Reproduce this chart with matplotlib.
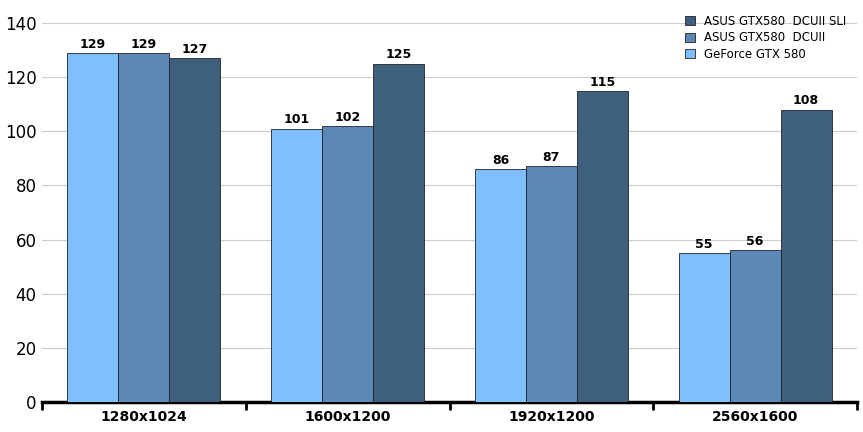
import matplotlib
matplotlib.use("Agg")
import matplotlib.pyplot as plt
import numpy as np

categories = ["1280x1024", "1600x1200", "1920x1200", "2560x1600"]
geforce = [129, 101, 86, 55]
dcuii = [129, 102, 87, 56]
sli = [127, 125, 115, 108]
series_names = ["GeForce GTX 580", "ASUS GTX580  DCUII", "ASUS GTX580  DCUII SLI"]
colors = ["#80BFFF", "#5B88B6", "#3F5F7F"]

fig = plt.figure(figsize=(8.63, 4.32), dpi=100)
ax = fig.add_axes([42/863, 1-402/432, 815/863, 379/432])
x = np.arange(len(categories))
w = 0.25
handles = []
for i, (vals, name, c) in enumerate(zip([geforce, dcuii, sli], series_names, colors)):
    b = ax.bar(x + (i-1)*w, vals, w, color=c, edgecolor="#222222", linewidth=0.6, label=name, zorder=3)
    handles.append(b)
    for xi, v in zip(x + (i-1)*w, vals):
        ax.text(xi, v + 0.8, str(v), ha="center", va="bottom", fontsize=9, fontweight="bold", zorder=4)

ax.set_xlim(-0.5, 3.5)
ax.set_ylim(0, 140)
ax.set_yticks(range(0, 141, 20))
ax.tick_params(axis="y", labelsize=12, length=0, pad=4)
ax.yaxis.grid(True, color="#CCCCCC", linewidth=0.8, zorder=0)
ax.set_xticks(x)
ax.set_xticklabels(categories, fontweight="bold", fontsize=10)
ax.tick_params(axis="x", length=0, pad=6)
ax.set_xticks([-0.5, 0.5, 1.5, 2.5, 3.5], minor=True)
ax.tick_params(axis="x", which="minor", length=6, width=2, direction="out")
for s in ["top", "right", "left"]:
    ax.spines[s].set_visible(False)
ax.spines["bottom"].set_linewidth(2.5)

leg = ax.legend(handles[::-1], series_names[::-1], loc="upper right", bbox_to_anchor=(1.0, 1.05),
                fontsize=8.5, frameon=False, handlelength=0.8, handleheight=0.8,
                labelspacing=0.3, handletextpad=0.8)
fig.savefig("out.png", dpi=100)
